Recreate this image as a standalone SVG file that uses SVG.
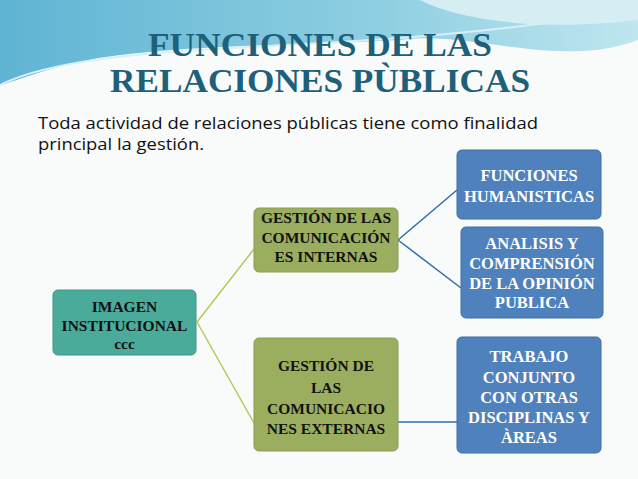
<svg xmlns="http://www.w3.org/2000/svg" width="638" height="479" viewBox="0 0 638 479">
<defs>
<linearGradient id="bg" x1="0" y1="0" x2="1" y2="0"><stop offset="0" stop-color="#5fb4d3"/><stop offset="0.6" stop-color="#8fcfe2"/><stop offset="1" stop-color="#bfe6ef"/></linearGradient>
<style>
.t{font-family:"Liberation Serif",serif;font-weight:bold;text-anchor:middle}
.w{fill:#fff;font-size:16.5px}
.k{fill:#111;font-size:15.5px}
.b{fill:#4f81bd;stroke:#3f6fa5;stroke-width:1}
.g{fill:#9bae5f;stroke:#8a9c52;stroke-width:1}
</style>
</defs>
<rect width="638" height="479" fill="#f9fafa"/>
<path d="M0 0H638V40C560 70 470 30 400 40C300 45 200 45 120 55C60 62 20 80 0 85Z" fill="url(#bg)"/>
<path d="M0 85C40 65 110 55 200 50C330 42 450 40 638 10" fill="none" stroke="#d8eff5" stroke-width="2"/>
<path d="M420 0C470 25 560 30 638 20V0Z" fill="#d4eef4"/>
<text class="t" x="320" y="56" font-size="33" fill="#1e5f7a" textLength="344" lengthAdjust="spacingAndGlyphs">FUNCIONES DE LAS</text>
<text class="t" x="320" y="92" font-size="33" fill="#1e5f7a" textLength="420" lengthAdjust="spacingAndGlyphs">RELACIONES PÙBLICAS</text>
<text x="38" y="129" font-family="'Open Sans',sans-serif" font-size="16" fill="#111" textLength="500" lengthAdjust="spacingAndGlyphs">Toda actividad de relaciones públicas tiene como finalidad</text>
<text x="38" y="150" font-family="'Open Sans',sans-serif" font-size="16" fill="#111" textLength="166" lengthAdjust="spacingAndGlyphs">principal la gestión.</text>
<g id="connectors" fill="none" stroke-width="1.5">
<path d="M197 322L254 249M197 322L254 423" stroke="#b5c95a"/>
<path d="M398 240L457 190M398 240L461 288M398 422H457" stroke="#2f6ea8"/>
</g>
<g id="imagen"><rect x="53" y="290" width="143" height="65" rx="5" fill="#4aab9b" stroke="#3e978a"/>
<text class="t k" x="124.5" y="312">IMAGEN</text><text class="t k" x="124.5" y="331">INSTITUCIONAL</text><text class="t k" x="124.5" y="349">ccc</text></g>
<g id="internas"><rect x="254" y="208" width="144" height="64" rx="5" class="g"/>
<text class="t k" x="326" y="223">GESTIÓN DE LAS</text><text class="t k" x="326" y="243">COMUNICACIÓN</text><text class="t k" x="326" y="262">ES INTERNAS</text></g>
<g id="externas"><rect x="254" y="338" width="144" height="113" rx="5" class="g"/>
<text class="t k" x="326" y="371" font-size="18">GESTIÓN DE</text><text class="t k" x="326" y="393" font-size="18">LAS</text><text class="t k" x="326" y="414" font-size="18">COMUNICACIO</text><text class="t k" x="326" y="434" font-size="18">NES EXTERNAS</text></g>
<g id="humanisticas"><rect x="457" y="150" width="144" height="69" rx="5" class="b"/>
<text class="t w" x="529" y="181">FUNCIONES</text><text class="t w" x="529" y="202">HUMANISTICAS</text></g>
<g id="analisis"><rect x="461" y="227" width="142" height="91" rx="5" class="b"/>
<text class="t w" x="532" y="249">ANALISIS Y</text><text class="t w" x="532" y="269">COMPRENSIÓN</text><text class="t w" x="532" y="289">DE LA OPINIÓN</text><text class="t w" x="532" y="308">PUBLICA</text></g>
<g id="trabajo"><rect x="457" y="337" width="144" height="116" rx="5" class="b"/>
<text class="t w" x="529" y="362">TRABAJO</text><text class="t w" x="529" y="383">CONJUNTO</text><text class="t w" x="529" y="403">CON OTRAS</text><text class="t w" x="529" y="423">DISCIPLINAS Y</text><text class="t w" x="529" y="443">ÀREAS</text></g>
</svg>
